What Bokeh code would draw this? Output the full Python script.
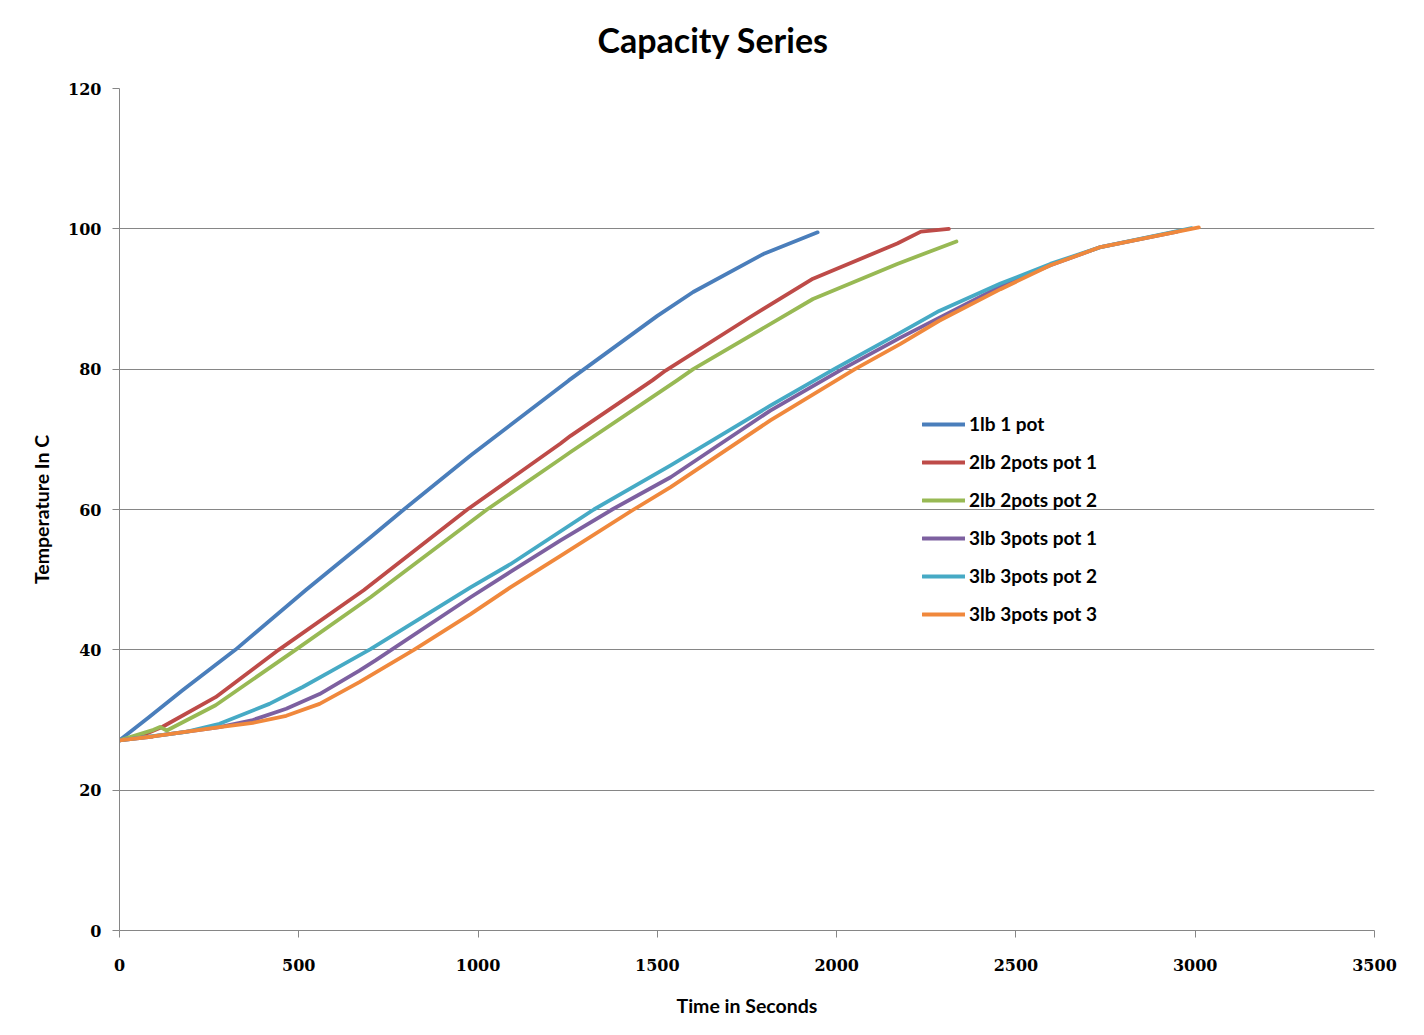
from bokeh.plotting import figure
from bokeh.models import Range1d, FixedTicker, Legend, LegendItem, Title
from bokeh.embed import file_html
from bokeh.resources import INLINE

# ---- data ----
series_names = ["1lb 1 pot", "2lb 2pots pot 1", "2lb 2pots pot 2",
                "3lb 3pots pot 1", "3lb 3pots pot 2", "3lb 3pots pot 3"]

t_1lb = [0, 82, 175, 323, 519, 700, 793, 979, 1253, 1500, 1600, 1799, 1947]
T_1lb = [27.1, 30.4, 34.2, 40.0, 48.5, 56.05, 60.0, 67.7, 78.4, 87.6, 91.0, 96.5, 99.5]

t_2lb_p1 = [0, 54, 119, 268, 444, 681, 970, 1230, 1258, 1486, 1523, 1758, 1934, 2169, 2235, 2313]
T_2lb_p1 = [27.1, 27.6, 29.0, 33.25, 40.0, 48.5, 60.0, 69.4, 70.5, 78.4, 79.8, 87.4, 92.9, 97.9, 99.6, 100.0]

t_2lb_p2 = [0, 95, 113, 132, 268, 491, 700, 1025, 1230, 1258, 1555, 1600, 1934, 2169, 2334]
T_2lb_p2 = [27.1, 28.6, 29.0, 28.5, 32.1, 40.0, 47.5, 60.0, 67.2, 68.2, 78.4, 80.0, 90.0, 95.0, 98.2]

t_3lb_p1 = [0, 93, 279, 372, 465, 558, 669, 714, 979, 1090, 1230, 1374, 1537, 1815, 2016, 2178, 2457, 2596, 2736, 2950]
T_3lb_p1 = [27.1, 27.65, 29.0, 30.0, 31.6, 33.7, 37.05, 38.5, 47.5, 51.1, 55.6, 60.0, 64.6, 74.1, 80.0, 84.5, 91.8, 94.8, 97.4, 99.6]

t_3lb_p2 = [0, 93, 186, 279, 418, 511, 593, 700, 979, 1090, 1323, 1537, 1815, 1993, 2178, 2286, 2457, 2596, 2736, 2990]
T_3lb_p2 = [27.1, 27.7, 28.3, 29.45, 32.3, 34.7, 37.05, 40.1, 48.9, 52.2, 60.0, 66.3, 74.8, 80.0, 85.2, 88.3, 92.2, 95.0, 97.4, 100.1]

t_3lb_p3 = [0, 93, 279, 372, 465, 558, 669, 821, 979, 1090, 1230, 1434, 1537, 1815, 2051, 2178, 2286, 2457, 2596, 2736, 3010]
T_3lb_p3 = [27.1, 27.65, 29.0, 29.6, 30.6, 32.3, 35.4, 40.0, 45.1, 48.9, 53.4, 60.0, 63.2, 72.7, 80.0, 83.6, 86.9, 91.4, 94.8, 97.4, 100.2]

x_ticks = [0, 500, 1000, 1500, 2000, 2500, 3000, 3500]
y_ticks = [0, 20, 40, 60, 80, 100, 120]

title_text = "Capacity Series"
x_label = "Time in Seconds"
y_label = "Temperature In C"

colors = ["#4A7EBB", "#BE4B48", "#98B954", "#7D60A0", "#46AAC5", "#F0883C"]

series = [(t_1lb, T_1lb), (t_2lb_p1, T_2lb_p1), (t_2lb_p2, T_2lb_p2),
          (t_3lb_p1, T_3lb_p1), (t_3lb_p2, T_3lb_p2), (t_3lb_p3, T_3lb_p3)]

GRID = "#868686"
TXT_FONT = "Lato"

p = figure(width=1416, height=1027, output_backend="svg", toolbar_location=None,
           x_range=Range1d(0, 3500), y_range=Range1d(0, 120),
           min_border_left=119, min_border_right=42, min_border_top=88,
           min_border_bottom=97, title_location=None)

# spacer between frame and title (closest to the frame)
p.add_layout(Title(text=" ", text_font_size="1px", standoff=26), "above")
# main title
p.add_layout(Title(text=title_text, text_font=TXT_FONT, text_font_size="34px",
                   text_font_style="bold", text_color="black", align="left",
                   offset=478, standoff=0), "above")

p.outline_line_color = None
p.background_fill_color = "white"
p.border_fill_color = "white"

p.xgrid.visible = False
p.ygrid.grid_line_color = GRID
p.ygrid.grid_line_width = 1
p.ygrid.ticker = FixedTicker(ticks=y_ticks)

for ax, ticks in ((p.xaxis[0], x_ticks), (p.yaxis[0], y_ticks)):
    ax.ticker = FixedTicker(ticks=ticks)
    ax.axis_line_color = GRID
    ax.major_tick_line_color = GRID
    ax.major_tick_out = 7
    ax.major_tick_in = 0
    ax.minor_tick_line_color = None
    ax.major_label_text_font = "DejaVu Serif"
    ax.major_label_text_font_style = "bold"
    ax.major_label_text_font_size = "16px"
    ax.major_label_text_color = "black"
    ax.axis_label_text_font = TXT_FONT
    ax.axis_label_text_font_style = "bold"
    ax.axis_label_text_font_size = "19.5px"
    ax.axis_label_text_color = "black"

p.xaxis.axis_label = x_label
p.yaxis.axis_label = y_label
p.xaxis.major_label_standoff = 21
p.xaxis.axis_label_standoff = 20
p.yaxis.major_label_standoff = 11
p.yaxis.axis_label_standoff = 12

items = []
for name, (tx, ty), c in zip(series_names, series, colors):
    r = p.line(tx, ty, line_color=c, line_width=3.8, line_join="round", line_cap="round")
    items.append(LegendItem(label=name, renderers=[r]))

legend = Legend(items=items, location=(803, 305), orientation="vertical",
                border_line_color=None, background_fill_alpha=0,
                padding=0, margin=0, spacing=15,
                glyph_width=43, glyph_height=20, label_height=20,
                label_standoff=4,
                label_text_font=TXT_FONT, label_text_font_style="bold",
                label_text_font_size="19px", label_text_color="black")
p.add_layout(legend, "center")

open("out.html", "w").write(file_html(p, INLINE))
